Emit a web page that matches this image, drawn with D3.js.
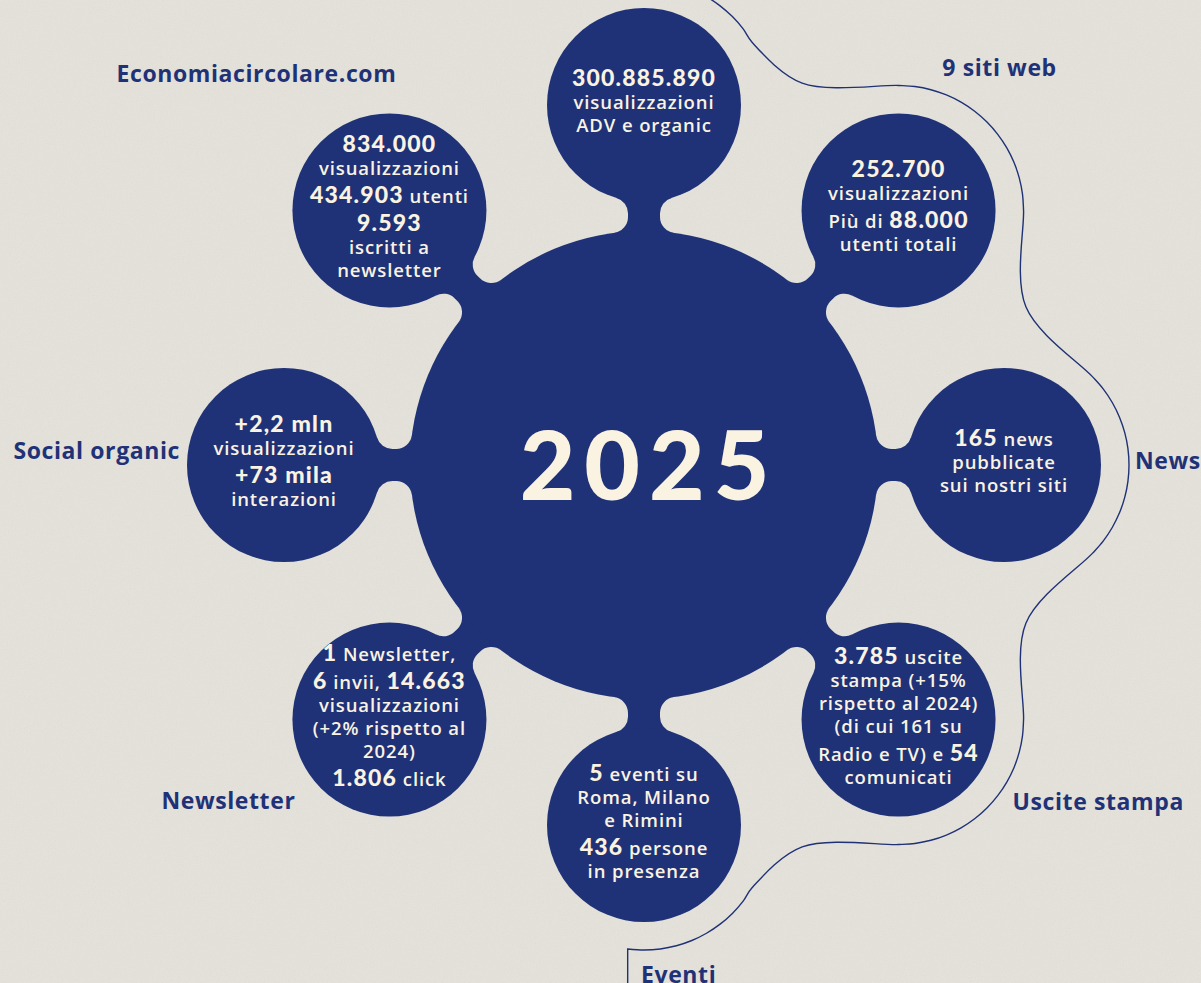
<!DOCTYPE html>
<html>
<head>
<meta charset="utf-8">
<script src="https://cdn.jsdelivr.net/npm/d3@7"></script>
<style>
  html, body { margin: 0; padding: 0; background: #e4e2da; }
  svg { display: block; }
</style>
</head>
<body>
<svg id="chart" width="1201" height="983"></svg>
<script>
// categories clockwise from the top
const categories = ["ADV", "9 siti web", "News", "Uscite stampa", "Eventi", "Newsletter", "Social organic", "Economiacircolare.com"];
const outerLabels = ["", "9 siti web", "News", "Uscite stampa", "Eventi", "Newsletter", "Social organic", "Economiacircolare.com"];
const centerLabel = "2025";
// ** ** = numero in grassetto
const bubbleLines = [
  ["**300.885.890**", "visualizzazioni", "ADV e organic"],
  ["**252.700**", "visualizzazioni", "Più di **88.000**", "utenti totali"],
  ["**165** news", "pubblicate", "sui nostri siti"],
  ["**3.785** uscite", "stampa (+15%", "rispetto al 2024)", "(di cui 161 su", "Radio e TV) e **54**", "comunicati"],
  ["**5** eventi su", "Roma, Milano", "e Rimini", "**436** persone", "in presenza"],
  ["**1** Newsletter,", "**6** invii, **14.663**", "visualizzazioni", "(+2% rispetto al", "2024)", "**1.806** click"],
  ["**+2,2 mln**", "visualizzazioni", "**+73 mila**", "interazioni"],
  ["**834.000**", "visualizzazioni", "**434.903** utenti", "**9.593**", "iscritti a", "newsletter"]
];
// which bubbles sit inside the thin bracket line on the right
const bracketed = ["ADV", "9 siti web", "News", "Uscite stampa", "Eventi"];

/*#################### layout ####################*/
const W = 1201, H = 983;
const NAVY = "#1f3277", CREAM = "#fbf3e2";
const cx = 644, cy = 465, R = 234, r = 97, D = 360;
const neckW = 16, fillet = 16;

const angle = d3.scalePoint().domain(categories).range([-90, 225]);
const rad = d => d * Math.PI / 180;
function satPos(cat){
  const a = rad(angle(cat));
  return [cx + D * Math.cos(a), cy + D * Math.sin(a)];
}

// label placement relative to each bubble centre
const labelLayout = {
  "9 siti web": {dx: 101, dy: -134, anchor: "middle"},
  "News": {dx: 131, dy: 4, anchor: "start"},
  "Uscite stampa": {dx: 114, dy: 90, anchor: "start"},
  "Eventi": {dx: -3, dy: 158, anchor: "start"},
  "Newsletter": {dx: -161, dy: 89, anchor: "middle"},
  "Social organic": {dx: -104, dy: -6, anchor: "end"},
  "Economiacircolare.com": {dx: -133, dy: -128, anchor: "middle"}
};

const svg = d3.select("#chart");

/*#################### paper ####################*/
const defs = svg.append("defs");
const grain = defs.append("filter").attr("id", "grain").attr("x", 0).attr("y", 0).attr("width", "100%").attr("height", "100%");
grain.append("feTurbulence").attr("type", "fractalNoise").attr("baseFrequency", 0.85).attr("numOctaves", 3).attr("seed", 7);
grain.append("feColorMatrix").attr("type", "saturate").attr("values", 0);

svg.append("rect").attr("width", W).attr("height", H).attr("fill", "#e4e2da");
svg.append("rect").attr("width", W).attr("height", H).attr("filter", "url(#grain)").attr("opacity", 0.08);

/*#################### bracket line ####################*/
const rb = r + 28;
function arcPts(c, a0, a1){
  const p = satPos(c), out = [];
  for(let a = a0; a <= a1 + 0.01; a += 7.5){
    out.push([p[0] + rb * Math.cos(rad(a)), p[1] + rb * Math.sin(rad(a))]);
  }
  return out;
}
function dipPt(c0, c1){
  const a = rad((angle(c0) + angle(c1)) / 2), d = D + r * 0.55;
  return [cx + d * Math.cos(a), cy + d * Math.sin(a)];
}
let bpts = [];
bracketed.forEach((c, i) => {
  const phi = angle(c);
  let a0 = phi - 45, a1 = phi + 45;
  if(i === 0){ a0 = phi + 15; a1 = phi + 60; }
  if(i === bracketed.length - 1){ a0 = phi - 60; a1 = phi + 7.5; }
  if(i > 0) bpts.push(dipPt(bracketed[i - 1], c));
  bpts = bpts.concat(arcPts(c, a0, a1));
});
const lastPt = bpts[bpts.length - 1];
svg.append("path")
  .attr("d", d3.line().curve(d3.curveCatmullRom.alpha(0.5))(bpts) + `L${lastPt[0]},${H + 5}`)
  .attr("fill", "none").attr("stroke", NAVY).attr("stroke-width", 1.4);

/*#################### blob ####################*/
function sweep(A, B, C){
  const cr = (A[0] - C[0]) * (B[1] - C[1]) - (A[1] - C[1]) * (B[0] - C[0]);
  return cr > 0 ? 1 : 0;
}
function neckPath(){
  const side = s => {
    const x1 = Math.sqrt((R + fillet) ** 2 - (neckW + fillet) ** 2);
    const C1 = [x1, s * (neckW + fillet)];
    const P1 = [C1[0] * R / (R + fillet), C1[1] * R / (R + fillet)];
    const Q1 = [x1, s * neckW];
    const x2 = Math.sqrt((r + fillet) ** 2 - (neckW + fillet) ** 2);
    const C2 = [D - x2, s * (neckW + fillet)];
    const P2 = [D + (C2[0] - D) * r / (r + fillet), C2[1] * r / (r + fillet)];
    const Q2 = [D - x2, s * neckW];
    return {C1, P1, Q1, C2, P2, Q2};
  };
  const u = side(1), l = side(-1);
  return `M${u.P1} A${fillet},${fillet} 0 0 ${sweep(u.P1, u.Q1, u.C1)} ${u.Q1}` +
    ` L${u.Q2} A${fillet},${fillet} 0 0 ${sweep(u.Q2, u.P2, u.C2)} ${u.P2}` +
    ` L${l.P2} A${fillet},${fillet} 0 0 ${sweep(l.P2, l.Q2, l.C2)} ${l.Q2}` +
    ` L${l.Q1} A${fillet},${fillet} 0 0 ${sweep(l.Q1, l.P1, l.C1)} ${l.P1} Z`;
}
const blob = svg.append("g").attr("fill", NAVY);
blob.selectAll("path.neck").data(categories).join("path")
  .attr("class", "neck")
  .attr("d", neckPath())
  .attr("transform", d => `translate(${cx},${cy}) rotate(${angle(d)})`);
blob.append("circle").attr("cx", cx).attr("cy", cy).attr("r", R);
blob.selectAll("circle.sat").data(categories).join("circle")
  .attr("class", "sat")
  .attr("cx", d => satPos(d)[0]).attr("cy", d => satPos(d)[1]).attr("r", r);

/*#################### texts ####################*/
svg.append("text")
  .attr("x", cx + 5).attr("y", cy + 35)
  .attr("text-anchor", "middle")
  .attr("font-family", "Lato, 'Open Sans', sans-serif").attr("font-weight", 900)
  .attr("font-size", 96).attr("letter-spacing", 9)
  .attr("fill", CREAM)
  .text(centerLabel);

const hasBold = s => s.indexOf("**") >= 0;
categories.forEach((c, i) => {
  const lines = bubbleLines[i];
  const [sx, sy] = satPos(c);
  const base = [0];
  for(let k = 1; k < lines.length; k++) base.push(base[k - 1] + (hasBold(lines[k]) ? 28 : 23));
  const top = hasBold(lines[0]) ? -17 : -14;
  const bottom = base[base.length - 1] + 5;
  const off = sy - 2 - (top + bottom) / 2;
  const g = svg.append("g").attr("fill", CREAM).attr("text-anchor", "middle");
  lines.forEach((ln, k) => {
    const t = g.append("text").attr("x", sx).attr("y", off + base[k]);
    ln.split(/(\*\*[^*]+\*\*)/).filter(s => s.length).forEach(seg => {
      const b = seg.startsWith("**");
      t.append("tspan")
        .attr("font-family", b ? "Lato, sans-serif" : "'Open Sans', sans-serif")
        .attr("font-weight", b ? 900 : 600)
        .attr("font-size", b ? 23 : 18.5)
        .attr("letter-spacing", b ? 1.2 : 0.9)
        .text(b ? seg.slice(2, -2) : seg);
    });
  });
});

svg.selectAll("text.outer").data(categories.filter((c, i) => outerLabels[i]))
  .join("text")
  .attr("class", "outer")
  .attr("x", d => satPos(d)[0] + labelLayout[d].dx)
  .attr("y", d => satPos(d)[1] + labelLayout[d].dy)
  .attr("text-anchor", d => labelLayout[d].anchor)
  .attr("font-family", "'Open Sans', sans-serif").attr("font-weight", 700)
  .attr("font-size", 23).attr("letter-spacing", 0.6)
  .attr("fill", NAVY)
  .text(d => outerLabels[categories.indexOf(d)]);
</script>
</body>
</html>
